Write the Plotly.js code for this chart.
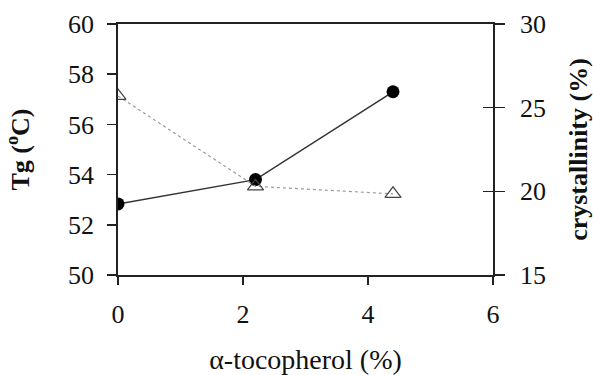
<!DOCTYPE html>
<html><head><meta charset="utf-8">
<script src="https://cdn.plot.ly/plotly-3.0.1.min.js"></script>
<style>html,body{margin:0;padding:0;background:#fff}#plot{width:593px;height:375px}</style>
</head><body><div id="plot"></div>
<script>
const tocopherol = [0, 2.2, 4.4];
const tg = [52.83, 53.8, 57.3];
const crystallinity = [25.7, 20.3, 19.85];
const tgTicks = [50, 52, 54, 56, 58, 60];
const crystTicks = [15, 20, 25, 30];
const xTicks = [0, 2, 4, 6];

const FONT = '"Liberation Serif", "Times New Roman", serif';
const AX = '#222';

const traces = [
  {x: tocopherol, y: crystallinity, yaxis: 'y2', mode: 'lines+markers', type: 'scatter',
   line: {color: '#999', width: 1.2, dash: 'dot'},
   marker: {symbol: 'triangle-up-open', size: 14, color: '#444', line: {width: 1.2, color: '#444'}},
   showlegend: false, hoverinfo: 'none'},
  {x: tocopherol, y: tg, yaxis: 'y', mode: 'lines+markers', type: 'scatter',
   line: {color: '#333', width: 1.5},
   marker: {symbol: 'circle', size: 13, color: '#000'},
   showlegend: false, hoverinfo: 'none'},
  {x: [null], y: [null], yaxis: 'y3', type: 'scatter', showlegend: false, hoverinfo: 'none'}
];

const layout = {
  width: 593, height: 375,
  margin: {l: 118, r: 100, t: 24, b: 100},
  paper_bgcolor: '#fff', plot_bgcolor: '#fff',
  font: {family: FONT, size: 26, color: '#111'},
  showlegend: false,
  xaxis: {range: [0, 6], tickvals: xTicks, ticks: 'outside', ticklen: 8, tickwidth: 1.5, tickcolor: AX,
    showline: true, linecolor: AX, linewidth: 1.8, mirror: true, showgrid: false, zeroline: false,
    ticklabelstandoff: 7,
    tickfont: {family: FONT, size: 26, color: '#111'},
    title: {text: 'α-tocopherol (%)', font: {family: FONT, size: 28, color: '#111'}, standoff: 27}},
  yaxis: {range: [50, 60], tickvals: tgTicks, ticks: 'outside', ticklen: 9, tickwidth: 1.5, tickcolor: AX,
    showline: true, linecolor: AX, linewidth: 1.8, showgrid: false, zeroline: false,
    ticklabelstandoff: 8,
    tickfont: {family: FONT, size: 26, color: '#111'},
    title: {text: '<b>Tg (<sup>o</sup>C)</b>', font: {family: FONT, size: 26, color: '#111'}, standoff: 31}},
  yaxis2: {range: [15, 30], tickvals: crystTicks, overlaying: 'y', side: 'right', anchor: 'x',
    ticks: 'outside', ticklen: 10, tickwidth: 1.5, tickcolor: AX,
    showline: true, linecolor: AX, linewidth: 1.8, showgrid: false, zeroline: false,
    ticklabelstandoff: 10,
    tickfont: {family: FONT, size: 26, color: '#111'},
    title: {text: '<b>crystallinity (%)</b>', font: {family: FONT, size: 26, color: '#111'}, standoff: 30}},
  yaxis3: {range: [15, 30], tickvals: crystTicks, overlaying: 'y', side: 'right', anchor: 'x',
    ticks: 'inside', ticklen: 10, tickwidth: 1.5, tickcolor: AX, showticklabels: false,
    showline: false, showgrid: false, zeroline: false}
};

Plotly.newPlot('plot', traces, layout, {staticPlot: true, displayModeBar: false});
</script></body></html>
